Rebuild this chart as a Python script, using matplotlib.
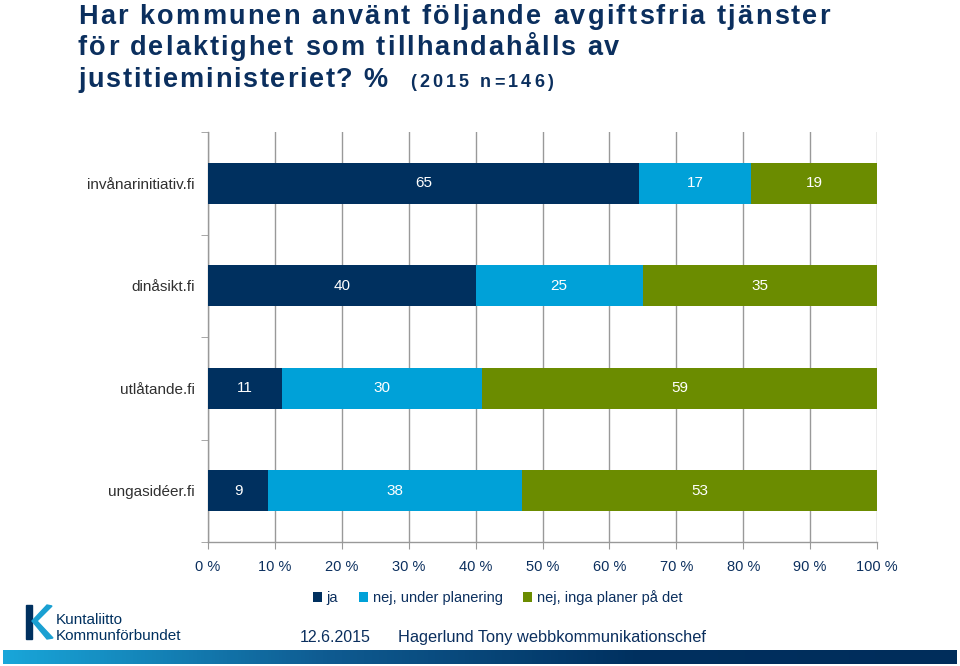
import numpy as np
import matplotlib
matplotlib.use("Agg")
import matplotlib.pyplot as plt
from matplotlib.patches import Rectangle, Polygon
from matplotlib.colors import LinearSegmentedColormap

plt.rcParams['font.family'] = ['Liberation Sans', 'DejaVu Sans']

# data
sites = ["invånarinitiativ.fi", "dinåsikt.fi", "utlåtande.fi", "ungasidéer.fi"]
series_names = ["ja", "nej, under planering", "nej, inga planer på det"]
ja = [65, 40, 11, 9]
nej_plan = [17, 25, 30, 38]
nej_inga = [19, 35, 59, 53]
colors = ["#00305F", "#00A1D8", "#6B8C00"]
xticks = [0, 10, 20, 30, 40, 50, 60, 70, 80, 90, 100]

navy = "#0B2F5E"
W, H = 960, 666

fig = plt.figure(figsize=(9.6, 6.66), dpi=100)
renderer = fig.canvas.get_renderer()


def text_w(s, **kw):
    t = fig.text(0, 0, s + "|", **kw)
    a = t.get_window_extent(renderer).width
    t.remove()
    t = fig.text(0, 0, "|", **kw)
    b = t.get_window_extent(renderer).width
    t.remove()
    return a - b


def tracked(x, y, s, target, **kw):
    # draw text char by char, spreading it out to the given pixel width (letter spacing)
    t = fig.text(0, 0, s, **kw)
    nat = t.get_window_extent(renderer).width
    t.remove()
    track = max(0, (target - nat) / (len(s) - 1))
    for i, ch in enumerate(s):
        if ch == ' ':
            continue
        xi = x + text_w(s[:i], **kw) + i * track
        fig.text(xi / W, 1 - y / H, ch, va='baseline', **kw)


ax = fig.add_axes([208/W, 1-542/H, (877-208)/W, (542-132)/H])

vals = np.array([ja, nej_plan, nej_inga], dtype=float)
pct = vals / vals.sum(axis=0) * 100  # 100 % stacked
y = np.arange(len(sites))
left = np.zeros(len(sites))
for i in range(3):
    ax.barh(y, pct[i], left=left, height=0.4, color=colors[i], label=series_names[i], zorder=3)
    for j in range(len(sites)):
        ax.text(left[j] + pct[i][j]/2, y[j], str(int(vals[i][j])), ha='center', va='center',
                color='white', fontsize=11, zorder=4)
    left += pct[i]

ax.set_xlim(0, 100)
ax.set_ylim(len(sites)-0.5, -0.5)
ax.set_xticks(xticks)
ax.set_xticklabels([f"{t} %" for t in xticks], color=navy, fontsize=10.5)
ax.set_yticks(y)
ax.set_yticklabels(sites, color="#303030", fontsize=11)
ax.set_yticks(np.arange(-0.5, len(sites), 1), minor=True)
ax.tick_params(axis='y', which='major', length=0, pad=9.5)
ax.tick_params(axis='y', which='minor', length=5, color='#999999', direction='out')
ax.tick_params(axis='x', length=5, color='#999999', direction='out', pad=8)
ax.grid(axis='x', color='#999999', linewidth=1, zorder=0)
for s in ['top', 'right']:
    ax.spines[s].set_visible(False)
for s in ['left', 'bottom']:
    ax.spines[s].set_color('#999999')
    ax.spines[s].set_linewidth(1)

leg = ax.legend(loc='upper center', bbox_to_anchor=(0.433, -0.085), ncol=3, frameon=False,
                fontsize=10.5, handlelength=0.65, handleheight=0.65, handletextpad=0.3,
                columnspacing=1.4)
for t in leg.get_texts():
    t.set_color(navy)

# title
tkw = dict(fontsize=19.5, fontweight='bold', color=navy)
tracked(78, 24, "Har kommunen använt följande avgiftsfria tjänster", 752, **tkw)
tracked(78, 55, "för delaktighet som tillhandahålls av", 541, **tkw)
tracked(78, 87, "justitieministeriet? %", 310, **tkw)
tracked(410, 87, "(2015 n=146)", 143, fontsize=13, fontweight='bold', color=navy)

# footer
fig.text(300/W, 1-642/H, "12.6.2015", fontsize=11.5, color=navy, va='baseline')
fig.text(398/W, 1-642/H, "Hagerlund Tony webbkommunikationschef", fontsize=11.8, color=navy, va='baseline')

fax = fig.add_axes([0, 0, 1, 1], zorder=-1)
fax.axis('off')
grad = np.linspace(0, 1, 256).reshape(1, -1)
cmap = LinearSegmentedColormap.from_list("bar", ["#19A6D9", "#0F5C92", "#00305F", "#002D5B"])
fax.imshow(grad, extent=[3, 957, 664, 650], aspect='auto', cmap=cmap)
fax.set_xlim(0, W)
fax.set_ylim(H, 0)
# logo
fax.add_patch(Rectangle((26, 605), 6, 34, color="#00305F"))
fax.add_patch(Polygon([[32, 621], [47, 605], [52, 606], [37, 621], [53, 638], [47, 639]],
                      closed=True, color="#1AA0D2"))
fax.text(56, 624, "Kuntaliitto", fontsize=11, color="#00305F", va='baseline')
fax.text(56, 640, "Kommunförbundet", fontsize=11, color="#00305F", va='baseline')

fig.savefig("out.png", dpi=100)
